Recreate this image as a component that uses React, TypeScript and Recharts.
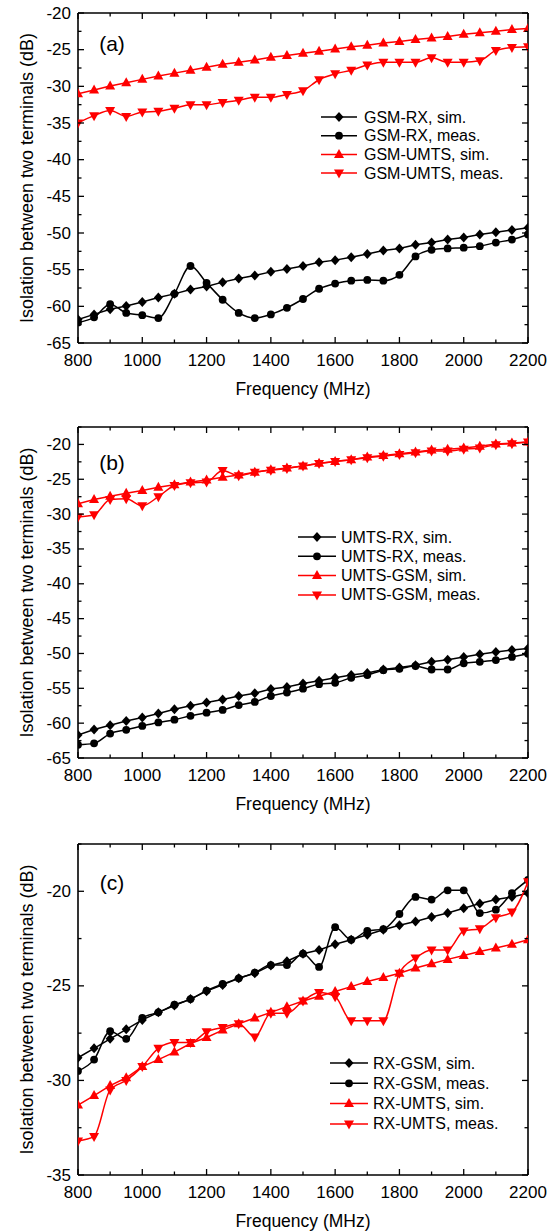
import { LineChart, Line, XAxis, YAxis, Legend } from 'recharts';

const FONT = '"Liberation Sans", Arial, sans-serif';
const RED = '#ff0000';
const BLACK = '#000000';

// frequency points (MHz)
const freqs = [800, 850, 900, 950, 1000, 1050, 1100, 1150, 1200, 1250, 1300, 1350, 1400, 1450, 1500,
  1550, 1600, 1650, 1700, 1750, 1800, 1850, 1900, 1950, 2000, 2050, 2100, 2150, 2200];
const xTicks = [800, 900, 1000, 1100, 1200, 1300, 1400, 1500, 1600, 1700, 1800, 1900, 2000, 2100, 2200];

// (a) GSM port
const aRxSim = [-61.8, -61.1, -60.4, -59.95, -59.4, -58.8, -58.3, -57.7, -57.3, -56.7, -56.2, -55.8, -55.3, -54.9, -54.5,
  -54.0, -53.7, -53.3, -52.85, -52.4, -52.1, -51.6, -51.3, -50.9, -50.6, -50.2, -49.9, -49.6, -49.3];
const aRxMeas = [-62.2, -61.5, -59.7, -60.9, -61.2, -61.6, -58.3, -54.5, -56.8, -59.1, -60.9, -61.6, -61.1, -60.2, -59.0,
  -57.6, -56.9, -56.5, -56.4, -56.5, -55.7, -53.2, -52.3, -52.1, -52.0, -51.8, -51.3, -50.9, -50.2];
const aUmtsSim = [-31.0, -30.5, -29.95, -29.5, -29.05, -28.6, -28.2, -27.8, -27.4, -27.0, -26.7, -26.4, -26.05, -25.8, -25.5,
  -25.2, -24.9, -24.6, -24.4, -24.1, -23.9, -23.6, -23.4, -23.2, -22.9, -22.7, -22.5, -22.25, -22.1];
const aUmtsMeas = [-35.0, -34.0, -33.3, -34.1, -33.5, -33.4, -33.0, -32.5, -32.5, -32.2, -31.9, -31.5, -31.5, -31.1, -30.6,
  -29.1, -28.3, -27.8, -27.1, -26.7, -26.7, -26.7, -26.1, -26.7, -26.7, -26.5, -25.1, -24.7, -24.6];
const aYTicks = [-65, -62.5, -60, -57.5, -55, -52.5, -50, -47.5, -45, -42.5, -40, -37.5, -35, -32.5, -30, -27.5, -25, -22.5, -20];

// (b) UMTS port
const bRxSim = [-61.7, -60.9, -60.3, -59.7, -59.2, -58.6, -58.0, -57.5, -57.05, -56.6, -56.1, -55.7, -55.1, -54.8, -54.3,
  -53.9, -53.5, -53.1, -52.8, -52.3, -52.0, -51.7, -51.2, -50.9, -50.5, -50.1, -49.8, -49.5, -49.3];
const bRxMeas = [-63.1, -62.9, -61.5, -60.95, -60.4, -59.9, -59.5, -58.95, -58.5, -58.1, -57.4, -56.95, -56.1, -55.6, -55.05,
  -54.4, -54.2, -53.5, -53.1, -52.4, -52.2, -51.8, -52.3, -52.3, -51.4, -51.2, -50.95, -50.5, -50.05];
const bGsmSim = [-28.5, -27.9, -27.45, -27.0, -26.6, -26.15, -25.8, -25.4, -25.1, -24.7, -24.4, -24.0, -23.65, -23.4, -23.1,
  -22.7, -22.45, -22.2, -21.8, -21.6, -21.35, -21.1, -20.8, -20.7, -20.5, -20.25, -19.95, -19.8, -19.65];
const bGsmMeas = [-30.4, -30.1, -27.9, -27.8, -28.8, -27.5, -25.9, -25.5, -25.4, -23.75, -24.5, -24.0, -23.7, -23.45, -23.1,
  -22.75, -22.45, -22.2, -21.9, -21.7, -21.45, -21.2, -20.95, -20.95, -20.7, -20.5, -20.05, -19.9, -19.65];
const bYTicks = [-65, -62.5, -60, -57.5, -55, -52.5, -50, -47.5, -45, -42.5, -40, -37.5, -35, -32.5, -30, -27.5, -25, -22.5, -20, -17.5];

// (c) RX port
const cGsmSim = [-28.8, -28.3, -27.8, -27.3, -26.8, -26.4, -26.04, -25.7, -25.28, -24.95, -24.6, -24.33, -23.92, -23.7, -23.3,
  -23.1, -22.8, -22.56, -22.3, -22.03, -21.8, -21.6, -21.36, -21.15, -20.9, -20.65, -20.44, -20.3, -20.1];
const cGsmMeas = [-29.5, -28.9, -27.4, -27.8, -26.7, -26.4, -26.0, -25.7, -25.25, -24.9, -24.6, -24.3, -23.9, -23.9, -23.3,
  -24.0, -21.9, -22.56, -22.1, -22.0, -21.2, -20.3, -20.44, -19.95, -19.95, -21.15, -20.97, -20.1, -19.4];
const cUmtsSim = [-31.3, -30.8, -30.27, -29.86, -29.27, -28.9, -28.5, -28.05, -27.73, -27.34, -27.0, -26.7, -26.4, -26.1, -25.8,
  -25.55, -25.3, -25.04, -24.77, -24.56, -24.33, -24.06, -23.83, -23.6, -23.4, -23.18, -23.0, -22.8, -22.56];
const cUmtsMeas = [-33.2, -32.96, -30.5, -30.0, -29.27, -28.3, -28.0, -28.0, -27.43, -27.2, -27.0, -27.7, -26.45, -26.45, -25.8,
  -25.35, -25.57, -26.85, -26.85, -26.85, -24.33, -23.53, -23.1, -23.1, -22.1, -21.98, -21.4, -21.1, -19.5];
const cYTicks = [-35, -32.5, -30, -27.5, -25, -22.5, -20, -17.5];

type Shape = 'diamond' | 'circle' | 'up' | 'down';

interface Series {
  name: string;
  values: number[];
  color: string;
  shape: Shape;
  smooth: boolean;
}

interface PanelProps {
  top: number;
  height: number;
  plotTop: number;
  plotBottom: number;
  yDomain: [number, number];
  yTicks: number[];
  tag: string;
  tagY: number;
  series: Series[];
  legend: { x: number; y: number; gap: number; line: number; textGap: number };
}

function marker(shape: Shape, cx: number, cy: number, color: string, key?: any) {
  if (cx == null || cy == null) return <g key={key} />;
  switch (shape) {
    case 'diamond':
      return <polygon key={key} points={`${cx},${cy - 5} ${cx + 4.5},${cy} ${cx},${cy + 5} ${cx - 4.5},${cy}`} fill={color} />;
    case 'circle':
      return <circle key={key} cx={cx} cy={cy} r={3.9} fill={color} />;
    case 'up':
      return <polygon key={key} points={`${cx},${cy - 5.5} ${cx + 5},${cy + 3.5} ${cx - 5},${cy + 3.5}`} fill={color} />;
    default:
      return <polygon key={key} points={`${cx},${cy + 5.5} ${cx + 5},${cy - 3.5} ${cx - 5},${cy - 3.5}`} fill={color} />;
  }
}

const MAJOR = 6;
const MINOR = 3.5;
const TICK_FONT = 17;
const isMajorX = (v: number) => v % 200 === 0;
const isMajorY = (v: number) => v % 5 === 0;

const bottomTick = (p: any) => {
  const { x, y, payload } = p;
  const major = isMajorX(payload.value);
  return (
    <g>
      <line x1={x} y1={y} x2={x} y2={y - (major ? MAJOR : MINOR)} stroke={BLACK} strokeWidth={1.3} />
      {major && (
        <text x={x} y={y + 17} textAnchor="middle" dominantBaseline="central" fontSize={TICK_FONT} fontFamily={FONT} fill={BLACK}>
          {payload.value}
        </text>
      )}
    </g>
  );
};

const topTick = (p: any) => {
  const { x, y, payload } = p;
  const major = isMajorX(payload.value);
  return <line x1={x} y1={y} x2={x} y2={y + (major ? MAJOR : MINOR)} stroke={BLACK} strokeWidth={1.3} />;
};

const leftTick = (p: any) => {
  const { x, y, payload } = p;
  const major = isMajorY(payload.value);
  return (
    <g>
      <line x1={x} y1={y} x2={x + (major ? MAJOR : MINOR)} y2={y} stroke={BLACK} strokeWidth={1.3} />
      {major && (
        <text x={x - 7} y={y} textAnchor="end" dominantBaseline="central" fontSize={TICK_FONT} fontFamily={FONT} fill={BLACK}>
          {payload.value}
        </text>
      )}
    </g>
  );
};

const rightTick = (p: any) => {
  const { x, y, payload } = p;
  const major = isMajorY(payload.value);
  return <line x1={x} y1={y} x2={x - (major ? MAJOR : MINOR)} y2={y} stroke={BLACK} strokeWidth={1.3} />;
};

function Panel({ top, height, plotTop, plotBottom, yDomain, yTicks, tag, tagY, series, legend }: PanelProps) {
  const data = freqs.map((f, i) => {
    const row: Record<string, number> = { f };
    series.forEach((s, k) => {
      row[`s${k}`] = s.values[i];
    });
    return row;
  });
  const topAxisH = 5;
  const axisStyle = { stroke: BLACK, strokeWidth: 1.6 };

  // legend keeps the series order of the original figure
  const renderLegend = () => (
    <svg width={240} height={legend.gap * series.length + 6} style={{ display: 'block' }}>
      {series.map((s, i) => {
        const cy = 10 + i * legend.gap;
        return (
          <g key={s.name}>
            <line x1={2} y1={cy} x2={2 + legend.line} y2={cy} stroke={s.color} strokeWidth={1.5} />
            {marker(s.shape, 2 + legend.line / 2, cy, s.color)}
            <text x={2 + legend.line + legend.textGap} y={cy} dominantBaseline="central" fontSize={16} fontFamily={FONT} fill={BLACK}>
              {s.name}
            </text>
          </g>
        );
      })}
    </svg>
  );

  return (
    <div style={{ position: 'absolute', left: 0, top, width: 555, height }}>
      <LineChart
        width={555}
        height={height}
        data={data}
        margin={{ top: plotTop - topAxisH, right: 0, bottom: 0, left: 0 }}
        style={{ fontFamily: FONT }}
      >
        <XAxis
          dataKey="f"
          type="number"
          domain={[800, 2200]}
          ticks={xTicks}
          interval={0}
          allowDataOverflow
          height={height - plotBottom}
          tickSize={0}
          tickMargin={0}
          tickLine={false}
          axisLine={axisStyle}
          tick={bottomTick}
          label={(p: any) => {
            const vb = p.viewBox || { x: 78, y: plotBottom, width: 450 };
            return (
              <text x={vb.x + vb.width / 2} y={vb.y + 46} textAnchor="middle" dominantBaseline="central" fontSize={17.5} fontFamily={FONT} fill={BLACK}>
                Frequency (MHz)
              </text>
            );
          }}
        />
        <XAxis
          xAxisId="top"
          dataKey="f"
          type="number"
          orientation="top"
          domain={[800, 2200]}
          ticks={xTicks}
          interval={0}
          allowDataOverflow
          height={topAxisH}
          tickSize={0}
          tickMargin={0}
          tickLine={false}
          axisLine={axisStyle}
          tick={topTick}
          label={() => (
            <text x={112} y={tagY} textAnchor="middle" dominantBaseline="central" fontSize={21} fontFamily={FONT} fill={BLACK}>
              {tag}
            </text>
          )}
        />
        <YAxis
          type="number"
          domain={yDomain}
          ticks={yTicks}
          interval={0}
          allowDataOverflow
          width={78}
          tickSize={0}
          tickMargin={0}
          tickLine={false}
          axisLine={axisStyle}
          tick={leftTick}
          label={(p: any) => {
            const vb = p.viewBox || { y: plotTop, height: plotBottom - plotTop };
            const cy = vb.y + vb.height / 2;
            return (
              <text x={27} y={cy} transform={`rotate(-90, 27, ${cy})`} textAnchor="middle" dominantBaseline="central" fontSize={18} fontFamily={FONT} fill={BLACK}>
                Isolation between two terminals (dB)
              </text>
            );
          }}
        />
        <YAxis
          yAxisId="right"
          orientation="right"
          type="number"
          domain={yDomain}
          ticks={yTicks}
          interval={0}
          allowDataOverflow
          width={27}
          tickSize={0}
          tickMargin={0}
          tickLine={false}
          axisLine={axisStyle}
          tick={rightTick}
        />
        <Legend
          layout="vertical"
          align="center"
          verticalAlign="middle"
          content={renderLegend}
          wrapperStyle={{ left: legend.x - 2, top: legend.y - 10, width: 240 }}
        />
        {series.map((s, k) => (
          <Line
            key={s.name}
            name={s.name}
            dataKey={`s${k}`}
            type={s.smooth ? 'monotone' : 'linear'}
            stroke={s.color}
            strokeWidth={1.5}
            isAnimationActive={false}
            activeDot={false}
            dot={(p: any) => marker(s.shape, p.cx, p.cy, s.color, `${s.name}-${p.index}`)}
          />
        ))}
      </LineChart>
    </div>
  );
}

export default function App() {
  return (
    <div style={{ position: 'absolute', left: 0, top: 0, width: 555, height: 1231, background: '#fff' }}>
      <Panel
        top={0}
        height={410}
        plotTop={13}
        plotBottom={343}
        yDomain={[-65, -20]}
        yTicks={aYTicks}
        tag="(a)"
        tagY={43}
        legend={{ x: 321, y: 117, gap: 18.7, line: 36, textGap: 7 }}
        series={[
          { name: 'GSM-RX, sim.', values: aRxSim, color: BLACK, shape: 'diamond', smooth: false },
          { name: 'GSM-RX, meas.', values: aRxMeas, color: BLACK, shape: 'circle', smooth: true },
          { name: 'GSM-UMTS, sim.', values: aUmtsSim, color: RED, shape: 'up', smooth: false },
          { name: 'GSM-UMTS, meas.', values: aUmtsMeas, color: RED, shape: 'down', smooth: true },
        ]}
      />
      <Panel
        top={410}
        height={410}
        plotTop={17}
        plotBottom={348}
        yDomain={[-65, -17.5]}
        yTicks={bYTicks}
        tag="(b)"
        tagY={52}
        legend={{ x: 298, y: 127, gap: 19.3, line: 38, textGap: 5 }}
        series={[
          { name: 'UMTS-RX, sim.', values: bRxSim, color: BLACK, shape: 'diamond', smooth: false },
          { name: 'UMTS-RX, meas.', values: bRxMeas, color: BLACK, shape: 'circle', smooth: true },
          { name: 'UMTS-GSM, sim.', values: bGsmSim, color: RED, shape: 'up', smooth: false },
          { name: 'UMTS-GSM, meas.', values: bGsmMeas, color: RED, shape: 'down', smooth: true },
        ]}
      />
      <Panel
        top={820}
        height={411}
        plotTop={24}
        plotBottom={355}
        yDomain={[-35, -17.5]}
        yTicks={cYTicks}
        tag="(c)"
        tagY={62}
        legend={{ x: 330, y: 243, gap: 20.3, line: 38, textGap: 5 }}
        series={[
          { name: 'RX-GSM, sim.', values: cGsmSim, color: BLACK, shape: 'diamond', smooth: false },
          { name: 'RX-GSM, meas.', values: cGsmMeas, color: BLACK, shape: 'circle', smooth: true },
          { name: 'RX-UMTS, sim.', values: cUmtsSim, color: RED, shape: 'up', smooth: false },
          { name: 'RX-UMTS, meas.', values: cUmtsMeas, color: RED, shape: 'down', smooth: true },
        ]}
      />
    </div>
  );
}
